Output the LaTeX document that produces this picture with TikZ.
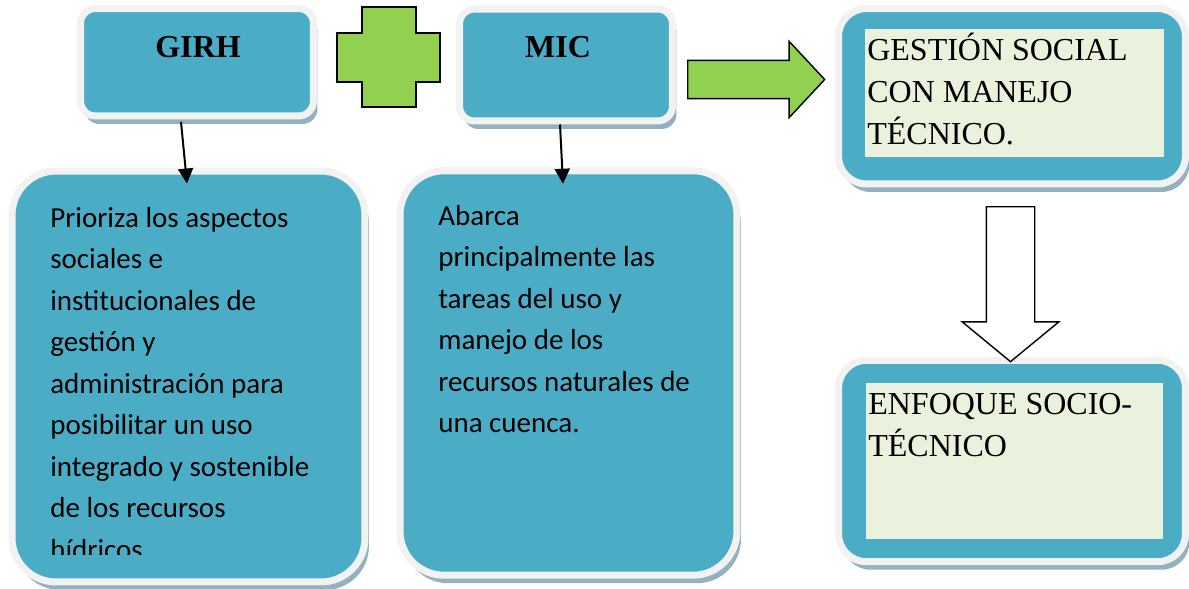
\documentclass[tikz,border=0pt]{standalone}
\usepackage{fontspec}
\setmainfont{Liberation Serif}
\newfontfamily\calib{Carlito}
\usetikzlibrary{shapes.arrows,shadows,arrows.meta,calc}
\definecolor{tealblue}{HTML}{4BACC6}
\definecolor{rim}{HTML}{F2F2F2}
\definecolor{shade}{HTML}{93B1BE}
\definecolor{leaf}{HTML}{92D050}
\definecolor{pale}{HTML}{EAF1DD}

\begin{document}
\begin{tikzpicture}[x=0.02cm,y=-0.02cm]
\tikzset{pod/.style={draw=rim,fill=tealblue,line width=0.14cm,
           drop shadow={shadow xshift=0.08cm,shadow yshift=-0.16cm,fill=shade,opacity=1}},
         heading/.style={font=\bfseries\fontsize{18.2pt}{22pt}\selectfont,inner sep=0},
         panel/.style={fill=pale,inner sep=0,anchor=north west},
         caps/.style={font=\fontsize{18.2pt}{23.8pt}\selectfont,align=left,inner sep=0.04cm,anchor=north west},
         body/.style={font=\calib\fontsize{16.5pt}{23.6pt}\selectfont,align=left,inner sep=0,anchor=north west},
         fatarrow/.style={single arrow,draw=black,line width=0.8pt,anchor=tail},
         link/.style={-{Triangle[length=0.3cm,width=0.3cm]},line width=0.04cm}}
\useasboundingbox (0,0) rectangle (1189,588);

\node[pod,rounded corners=0.3cm,minimum width=4.66cm,minimum height=2.15cm] (girh) at (197,62.25) {};
\node[heading] (girhtxt) at (198,47) {GIRH};
\node[pod,rounded corners=0.3cm,minimum width=4.26cm,minimum height=2.24cm] (mic) at (566,65) {};
\node[heading] (mictxt) at (558,47) {MIC};

\draw[fill=leaf,line width=0.8pt] (337,33) -- (362,33) -- (362,7) -- (416,7) -- (416,33) -- (440,33)
  -- (440,82) -- (416,82) -- (416,107) -- (362,107) -- (362,82) -- (337,82) -- cycle;

\node[pod,rounded corners=0.88cm,minimum width=7.06cm,minimum height=8.22cm] (prio) at (188.5,376.5) {};
\begin{scope}
\clip (16,175) rectangle (360,554);
\node[body] (priotxt) at (50,198) {\strut Prioriza los aspectos\\sociales e\\institucionales de\\gestión y\\administración para\\posibilitar un uso\\integrado y sostenible\\de los recursos\\hídricos};
\end{scope}
\node[pod,rounded corners=0.88cm,minimum width=6.74cm,minimum height=8.09cm] (abarca) at (568.5,373) {};
\node[body] (abarcatxt) at (438,196) {\strut Abarca\\principalmente las\\tareas del uso y\\manejo de los\\recursos naturales de\\una cuenca.};

\node[pod,rounded corners=0.56cm,minimum width=6.94cm,minimum height=3.51cm] (social) at (1012,96.25) {};
\node[panel,minimum width=5.98cm,minimum height=2.56cm] (socialin) at (865,29) {};
\node[caps] (socialtxt) at (865,29) {\strut GESTIÓN SOCIAL\\CON MANEJO\\TÉCNICO.};
\node[pod,rounded corners=0.56cm,minimum width=6.94cm,minimum height=4.03cm] (socio) at (1012,461) {};
\node[panel,minimum width=5.94cm,minimum height=3.12cm] (socioin) at (866,383) {};
\node[caps] (sociotxt) at (866,383) {\strut ENFOQUE SOCIO-\\TÉCNICO};

\node[fatarrow,fill=leaf,inner sep=0.37cm,minimum height=2.74cm,single arrow head extend=0.38cm,
      single arrow tip angle=94] (join) at (687,79.5) {};
\node[fatarrow,fill=white,inner sep=0.47cm,minimum height=3.1cm,single arrow head extend=0.48cm,
      single arrow tip angle=101,shape border rotate=270] (lead) at (1010.5,206) {};

\draw[link] ($(girh.south)+(-16,2.5)$) -- ($(prio.north)+(-1.5,16)$);
\draw[link] ($(mic.south)+(-6,0)$) -- ($(abarca.north)+(-5.5,16.5)$);
\end{tikzpicture}
\end{document}
